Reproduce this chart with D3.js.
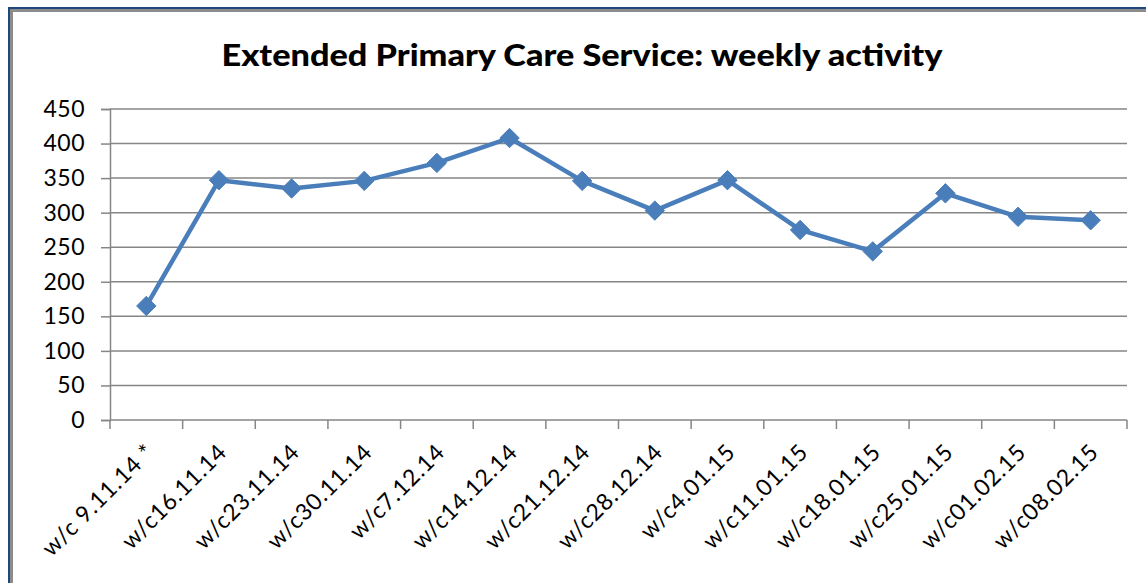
<!DOCTYPE html>
<html>
<head>
<meta charset="utf-8">
<script src="https://cdn.jsdelivr.net/npm/d3@7"></script>
<style>
  body { margin: 0; background: #fff; }
  svg { display: block; }
</style>
</head>
<body>
<div id="chart"></div>
<script>
// weekly activity counts
var weeks = ["w/c 9.11.14 *", "w/c16.11.14", "w/c23.11.14", "w/c30.11.14", "w/c7.12.14",
  "w/c14.12.14", "w/c21.12.14", "w/c28.12.14", "w/c4.01.15", "w/c11.01.15",
  "w/c18.01.15", "w/c25.01.15", "w/c01.02.15", "w/c08.02.15"];
var activity = [165, 347, 335, 346, 372, 408, 346, 303, 347, 275, 244, 328, 294, 289];
var yTicks = [0, 50, 100, 150, 200, 250, 300, 350, 400, 450];
var title = "Extended Primary Care Service: weekly activity";

var width = 1146, height = 583;
var margin = { top: 109, right: 19, bottom: 163, left: 110 };
var plotW = width - margin.left - margin.right;
var plotH = height - margin.top - margin.bottom;
var font = "Lato, 'Open Sans', sans-serif";

var svg = d3.select("#chart").append("svg")
  .attr("width", width)
  .attr("height", height);

// outer frame (only top and left edges are in view)
svg.append("path").attr("d", "M11.5,583 V10.5 H1146")
  .attr("fill", "none").attr("stroke", "#8c8c8c").attr("stroke-width", 3);
svg.append("path").attr("d", "M9,583 V8 H1146")
  .attr("fill", "none").attr("stroke", "#1f497d").attr("stroke-width", 2);

svg.append("text")
  .attr("x", 582)
  .attr("y", 66)
  .attr("text-anchor", "middle")
  .attr("textLength", 721)
  .attr("lengthAdjust", "spacingAndGlyphs")
  .style("font-family", font)
  .style("font-weight", "900")
  .style("font-size", "30px")
  .style("fill", "#000")
  .text(title);

var g = svg.append("g")
  .attr("transform", "translate(" + margin.left + "," + margin.top + ")");

var x = d3.scaleBand()
  .domain(weeks)
  .range([0, plotW]);

var y = d3.scaleLinear()
  .domain([0, 450])
  .range([plotH, 0]);

// horizontal gridlines
g.selectAll(".grid")
  .data(yTicks.filter(function (d) { return d > 0; }))
  .enter().append("line")
  .attr("class", "grid")
  .attr("x1", 0).attr("x2", plotW)
  .attr("y1", function (d) { return y(d); })
  .attr("y2", function (d) { return y(d); })
  .attr("stroke", "#868686")
  .attr("stroke-width", 1.5);

var yAxis = d3.axisLeft(y).tickValues(yTicks).tickSize(9).tickPadding(16);
var yg = g.append("g").call(yAxis);
yg.select(".domain").attr("stroke", "#868686").attr("stroke-width", 1.5);
yg.selectAll(".tick line").attr("stroke", "#868686").attr("stroke-width", 1.5);
yg.selectAll(".tick text")
  .style("font-family", font)
  .style("font-size", "23px")
  .style("letter-spacing", "0.5px")
  .style("fill", "#000");

// x axis with ticks between categories
var xg = g.append("g").attr("transform", "translate(0," + plotH + ")");
xg.append("line")
  .attr("x1", 0).attr("x2", plotW)
  .attr("stroke", "#868686").attr("stroke-width", 1.5);
xg.selectAll(".xtick")
  .data(d3.range(weeks.length + 1))
  .enter().append("line")
  .attr("class", "xtick")
  .attr("x1", function (i) { return i * x.bandwidth(); })
  .attr("x2", function (i) { return i * x.bandwidth(); })
  .attr("y1", 0).attr("y2", 9)
  .attr("stroke", "#868686").attr("stroke-width", 1.5);
xg.selectAll(".xlabel")
  .data(weeks)
  .enter().append("text")
  .attr("class", "xlabel")
  .attr("transform", function (d) {
    return "translate(" + (x(d) + x.bandwidth() / 2 - 2) + ",22) rotate(-45)";
  })
  .attr("text-anchor", "end")
  .attr("dy", "0.7em")
  .style("font-family", font)
  .style("font-size", "23px")
  .style("letter-spacing", "0.8px")
  .style("fill", "#000")
  .text(function (d) { return d; });

var cx = function (d, i) { return x(weeks[i]) + x.bandwidth() / 2; };

var line = d3.line()
  .x(function (d, i) { return cx(d, i); })
  .y(function (d) { return y(d); });

g.append("path")
  .datum(activity)
  .attr("fill", "none")
  .attr("stroke", "#4a7ebb")
  .attr("stroke-width", 4.5)
  .attr("stroke-linejoin", "round")
  .attr("d", line);

g.selectAll(".pt")
  .data(activity)
  .enter().append("path")
  .attr("class", "pt")
  .attr("d", d3.symbol().type(d3.symbolDiamond2).size(240))
  .attr("transform", function (d, i) { return "translate(" + cx(d, i) + "," + y(d) + ")"; })
  .attr("fill", "#4a7ebb")
  .attr("stroke", "#4a7ebb")
  .attr("stroke-width", 1);
</script>
</body>
</html>
